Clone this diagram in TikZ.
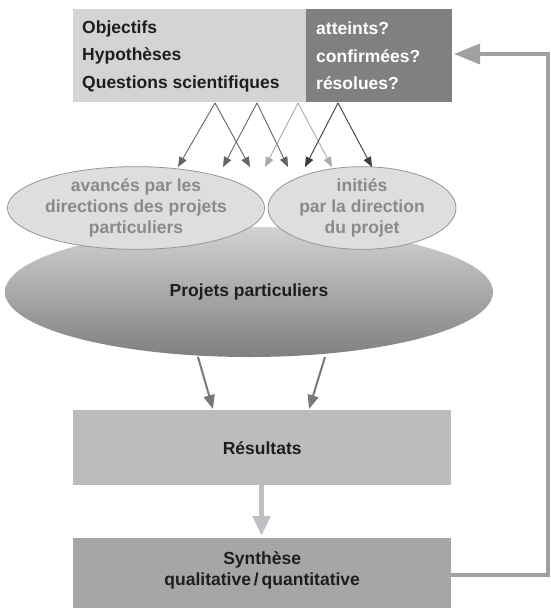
\documentclass[tikz,border=0pt]{standalone}
\usepackage{fontspec}
\setmainfont{Liberation Sans}
\usetikzlibrary{arrows.meta,shapes.geometric}
\definecolor{boxlight}{RGB}{212,212,214}
\definecolor{boxdark}{RGB}{128,128,131}
\definecolor{ellsmall}{RGB}{222,222,224}
\definecolor{ellborder}{RGB}{150,150,152}
\definecolor{elltext}{RGB}{138,138,140}
\definecolor{resfill}{RGB}{188,188,190}
\definecolor{synfill}{RGB}{166,166,168}
\definecolor{txt}{RGB}{30,30,30}
\definecolor{armid}{RGB}{100,100,102}
\definecolor{arlight}{RGB}{170,170,172}
\definecolor{ardark}{RGB}{60,60,62}
\definecolor{argray}{RGB}{120,120,122}
\definecolor{arpale}{RGB}{192,192,196}
\definecolor{fbgray}{RGB}{160,160,163}
\definecolor{elltop}{RGB}{210,210,212}
\definecolor{ellbot}{RGB}{128,128,131}
\begin{document}
\begin{tikzpicture}[x=1pt,y=-1pt,
  every node/.style={font=\fontsize{17.5}{21}\selectfont\bfseries},
  rectbox/.style={inner sep=0, anchor=north west},
  thin arrow/.style={line width=0.9pt, -{Triangle[length=10pt,width=8pt]}},
  mid arrow/.style={line width=2pt, draw=argray, -{Triangle[length=14pt,width=11pt]}},
  smallell/.style={ellipse, draw=ellborder, line width=0.8pt, fill=ellsmall, text=elltext,
     minimum width=188, minimum height=80, inner sep=0, align=center,
     font=\fontsize{17.5}{21}\selectfont\bfseries}
]
\useasboundingbox (0,0) rectangle (550,610);

% top boxes
\node[rectbox, fill=boxlight, minimum width=233, minimum height=93] (tl) at (73,9) {};
\node[rectbox, fill=boxdark, minimum width=146, minimum height=93] (dk) at (306,9) {};
\node[anchor=west, text=txt, align=left, inner sep=0,
  font=\fontsize{17.5}{27.5}\selectfont\bfseries] (tlt) at (82,56)
  {Objectifs\\Hypothèses\\Questions scientifiques};
\node[anchor=west, text=white, align=left, inner sep=0,
  font=\fontsize{17.5}{27.5}\selectfont\bfseries] (dkt) at (316,56)
  {atteints?\\confirmées?\\résolues?};

% big ellipse
\node[ellipse, minimum width=488, minimum height=130, inner sep=0,
  top color=elltop, bottom color=ellbot, text=txt] (pp) at (249,292) {Projets particuliers};

% small ellipses
\node[smallell] (av) at (136,208) {avancés par les\\directions des projets\\particuliers};
\node[smallell] (in) at (362,208) {initiés\\par la direction\\du projet};

% top arrows
\foreach \n/\x in {a/215,b/257,c/298,d/338} \coordinate (s\n) at (\x,103);
\foreach \n/\x in {aL/178,aR/250,bL/223,bR/288,cL/265,cR/332,dL/305,dR/372} \coordinate (t\n) at (\x,167);
\draw[thin arrow, armid] (sa) -- (taL);
\draw[thin arrow, armid] (sa) -- (taR);
\draw[thin arrow, armid] (sb) -- (tbL);
\draw[thin arrow, armid] (sb) -- (tbR);
\draw[thin arrow, arlight] (sc) -- (tcL);
\draw[thin arrow, arlight] (sc) -- (tcR);
\draw[thin arrow, ardark] (sd) -- (tdL);
\draw[thin arrow, ardark] (sd) -- (tdR);

% results and synthesis
\node[rectbox, fill=resfill, minimum width=378, minimum height=75] (res) at (73,410) {};
\node[text=txt] (rest) at (res.center) {Résultats};
\node[rectbox, fill=synfill, minimum width=378, minimum height=70] (syn) at (73,538) {};
\node[text=txt, align=center, font=\fontsize{17.5}{21}\selectfont\bfseries] (synt) at ([yshift=3]syn.center) {Synthèse\\qualitative\,/\,quantitative};

% arrows from big ellipse
\coordinate (p1) at (198,357);
\coordinate (p2) at (325,357);
\coordinate (r1) at (213,409);
\coordinate (r2) at (309,409);
\draw[mid arrow] (p1) -- (r1);
\draw[mid arrow] (p2) -- (r2);

% results -> synthesis
\draw[line width=5pt, draw=arpale, -{Triangle[length=20pt,width=17pt]}] (261.5,485) -- (261.5,536);

% feedback
\coordinate (fbc) at (548,575);
\coordinate (fbe) at (454,54);
\draw[line width=3.5pt, draw=fbgray, -{Triangle[length=26pt,width=20pt]}]
  (syn.east |- fbc) -- (fbc) -- (fbc |- fbe) -- (fbe);
\end{tikzpicture}
\end{document}
